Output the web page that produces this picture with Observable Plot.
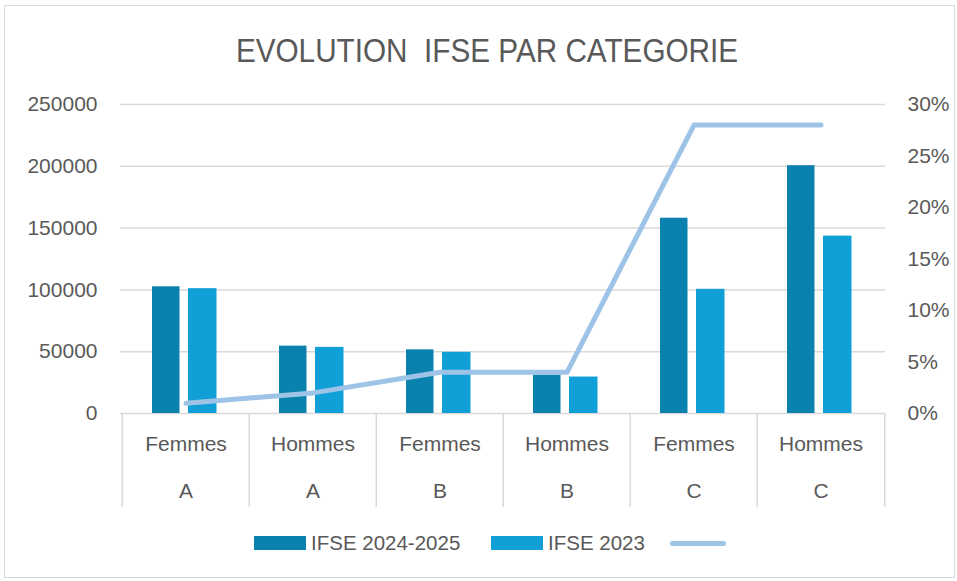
<!DOCTYPE html>
<html>
<head>
<meta charset="utf-8">
<script src="https://cdn.jsdelivr.net/npm/d3@7"></script>
<script src="https://cdn.jsdelivr.net/npm/@observablehq/plot@0.6"></script>
<style>
  html, body { margin: 0; padding: 0; background: #fff; }
  body { font-family: "Liberation Sans", Arial, sans-serif; color: #595959; }
  #wrap { position: relative; width: 957px; height: 581px; overflow: hidden; }
  #border { position: absolute; left: 4px; top: 5px; width: 951px; height: 573px; border: 1.5px solid #d9d9d9; box-sizing: border-box; }
  #title { position: absolute; left: 0; top: 34px; width: 974px; text-align: center; font-size: 33px; line-height: 33px; white-space: pre; }
  #title span { display: inline-block; transform: scaleX(0.9); transform-origin: center; }
  #chart { position: absolute; left: 0; top: 0; }
  .lg { position: absolute; top: 533px; height: 20px; display: flex; align-items: center; font-size: 20.5px; white-space: nowrap; }
  .sw { width: 52px; height: 14px; margin-right: 5px; }
</style>
</head>
<body>
<div id="wrap">
  <div id="border"></div>
  <div id="title"><span>EVOLUTION  IFSE PAR CATEGORIE</span></div>
  <div id="chart"></div>
</div>
<script>
// ---- Data ----
const genders = ["Femmes", "Hommes", "Femmes", "Hommes", "Femmes", "Hommes"];
const categories = ["A", "A", "B", "B", "C", "C"];
const ifse2024 = [102500, 54500, 51500, 31000, 158000, 200500];
const ifse2023 = [101000, 53500, 49500, 29500, 100500, 143500];
const evolutionPct = [1, 2, 4, 4, 28, 28];
const leftTicks = [0, 50000, 100000, 150000, 200000, 250000];
const rightTicks = [0, 5, 10, 15, 20, 25, 30];
const seriesNames = ["IFSE 2024-2025", "IFSE 2023", ""];
const colors = ["#0b81ae", "#119fd7", "#9dc3e6"];

const YMAX = 250000, PMAX = 30;
const rows = genders.map((g, i) => ({
  key: g + "|" + categories[i] + "|" + i,
  gender: g, cat: categories[i],
  v2024: ifse2024[i], v2023: ifse2023[i], pct: evolutionPct[i]
}));
const keys = rows.map(r => r.key);

const W = 957, H = 520;
const mL = 120, mR = 72, mT = 104, mB = 107;
const bw = (W - mL - mR) / keys.length;
const frameH = H - mT - mB;

const chart = Plot.plot({
  width: W, height: H,
  marginLeft: mL, marginRight: mR, marginTop: mT, marginBottom: mB,
  style: { background: "transparent", color: "#595959", fontSize: "21px", fontFamily: "'Liberation Sans', Arial, sans-serif", overflow: "visible" },
  x: { domain: keys, padding: 0, axis: null },
  y: { domain: [0, YMAX], nice: false, axis: null },
  marks: [
    Plot.gridY(leftTicks, { stroke: "#d9d9d9", strokeOpacity: 1, strokeWidth: 1.5 }),
    Plot.axisY(leftTicks, { anchor: "left", tickSize: 0, tickPadding: 23, tickFormat: d => String(d), label: null, fontSize: 21, fill: "#595959" }),
    Plot.axisY(rightTicks.map(p => p * YMAX / PMAX), { anchor: "right", tickSize: 0, tickPadding: 22, tickFormat: d => Math.round(d / YMAX * PMAX) + "%", label: null, fontSize: 21, fill: "#595959" }),
    Plot.ruleX(keys, { x: d => d, dx: -bw / 2, insetTop: frameH, insetBottom: -94, stroke: "#d9d9d9", strokeWidth: 1.5 }),
    Plot.ruleX(keys.slice(-1), { x: d => d, dx: bw / 2, insetTop: frameH, insetBottom: -94, stroke: "#d9d9d9", strokeWidth: 1.5 }),
    Plot.barY(rows, { x: "key", y: "v2024", fill: colors[0], insetLeft: 30, insetRight: 69.5 }),
    Plot.barY(rows, { x: "key", y: "v2023", fill: colors[1], insetLeft: 66, insetRight: 32.5 }),
    Plot.line(rows, { x: "key", y: d => d.pct * YMAX / PMAX, stroke: colors[2], strokeWidth: 5, strokeLinecap: "round", strokeLinejoin: "round" }),
    Plot.text(rows, { x: "key", text: "gender", frameAnchor: "bottom", dy: 31, lineAnchor: "middle", fontSize: 21, fill: "#595959" }),
    Plot.text(rows, { x: "key", text: "cat", frameAnchor: "bottom", dy: 78, lineAnchor: "middle", fontSize: 21, fill: "#595959" })
  ]
});
document.getElementById("chart").appendChild(chart);

// ---- Legend ----
const wrap = document.getElementById("wrap");
const legendLefts = [254, 491, 670];
[0, 1].forEach(i => {
  const it = document.createElement("div");
  it.className = "lg";
  it.style.left = legendLefts[i] + "px";
  const sw = document.createElement("div");
  sw.className = "sw"; sw.style.background = colors[i];
  const tx = document.createElement("span");
  tx.textContent = seriesNames[i];
  it.appendChild(sw); it.appendChild(tx);
  wrap.appendChild(it);
});
const ln = document.createElement("div");
ln.className = "lg";
ln.style.left = legendLefts[2] + "px";
ln.innerHTML = `<div style="width:56px;height:5px;border-radius:3px;background:${colors[2]};"></div>`;
wrap.appendChild(ln);
</script>
</body>
</html>
